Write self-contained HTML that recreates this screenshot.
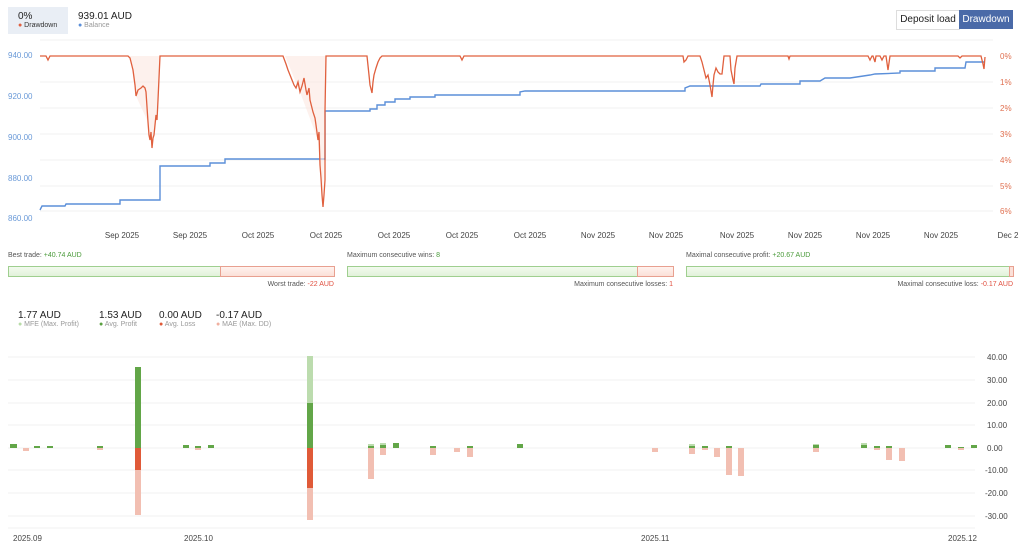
<!DOCTYPE html>
<html><head><meta charset="utf-8"><style>
body{margin:0;background:#fff;width:1024px;height:549px;overflow:hidden;font-family:"Liberation Sans",sans-serif;position:relative}
.a{position:absolute;white-space:nowrap}
.m{font-family:"Liberation Sans",sans-serif;font-size:7px;color:#555}
</style></head><body>
<div class="a" style="left:8px;top:7px;width:60px;height:27px;background:#e9eef5"></div>
<div class="a" style="left:18px;top:11px;font-size:10px;color:#222">0%</div>
<div class="a" style="left:18px;top:22px;font-size:7px;color:#333"><span style="color:#e06040">●</span> Drawdown</div>
<div class="a" style="left:78px;top:11px;font-size:10px;color:#222">939.01 AUD</div>
<div class="a" style="left:78px;top:22px;font-size:7px;color:#999"><span style="color:#5b8fd9">●</span> Balance</div>
<div class="a" style="left:896px;top:10px;width:62px;height:18px;border:1px solid #ddd;font-size:10px;line-height:18px;text-align:center;color:#222">Deposit load</div>
<div class="a" style="left:959px;top:10px;width:54px;height:19px;background:#4a6aa8;font-size:10px;line-height:19px;text-align:center;color:#fff">Drawdown</div>

<svg class="a" style="left:0;top:0" width="1024" height="549">
<g stroke="#f0f0f0" stroke-width="1">
<line x1="40" x2="993" y1="40" y2="40"/><line x1="40" x2="993" y1="82" y2="82"/><line x1="40" x2="993" y1="108" y2="108"/><line x1="40" x2="993" y1="134" y2="134"/><line x1="40" x2="993" y1="160" y2="160"/><line x1="40" x2="993" y1="186" y2="186"/><line x1="40" x2="993" y1="211" y2="211"/>
</g>
<g font-size="8" fill="#6a9ad8"><text x="8" y="58">940.00</text><text x="8" y="99">920.00</text><text x="8" y="140">900.00</text><text x="8" y="181">880.00</text><text x="8" y="221">860.00</text></g>
<g font-size="8" fill="#e07050"><text x="1000" y="59">0%</text><text x="1000" y="85">1%</text><text x="1000" y="111">2%</text><text x="1000" y="137">3%</text><text x="1000" y="163">4%</text><text x="1000" y="189">5%</text><text x="1000" y="214">6%</text></g>
<g font-size="8" fill="#444" text-anchor="middle"><text x="122" y="238">Sep 2025</text><text x="190" y="238">Sep 2025</text><text x="258" y="238">Oct 2025</text><text x="326" y="238">Oct 2025</text><text x="394" y="238">Oct 2025</text><text x="462" y="238">Oct 2025</text><text x="530" y="238">Oct 2025</text><text x="598" y="238">Nov 2025</text><text x="666" y="238">Nov 2025</text><text x="737" y="238">Nov 2025</text><text x="805" y="238">Nov 2025</text><text x="873" y="238">Nov 2025</text><text x="941" y="238">Nov 2025</text><text x="1008" y="238">Dec 2</text></g>
<polyline fill="none" stroke="#5b8fd9" stroke-width="1.4" points="40,210 42,206 65,206 66,204 120,204 120,200 160,200 160,166 210,166 210,163 225,163 225,159 325,159 325,111 370,111 370,109 377,109 377,105 385,105 385,102 395,102 395,99 410,99 410,97 435,97 435,95 520,95 520,92 525,91 685,91 685,88 690,86 760,86 761,84 800,84 800,81 820,81 825,78 850,78 870,75 875,74 900,73 900,71 935,71 935,68 965,68 966,62 980,62 985,62"/>
<polygon fill="#fbe7e1" opacity="0.6" points="130,56 136,96 148,122 152,147 158,100 160,56"/>
<polygon fill="#fbe7e1" opacity="0.6" points="285,56 300,92 318,140 323,207 326,56"/>
<polyline fill="none" stroke="#e0603e" stroke-width="1.3" points="40,56 46,56 48,60 50,56 128,56 130,58 133,70 135,85 136,96 138,90 141,88 143,86 145,88 146,92 148,122 149,135 150,140 151,132 152,148 153,138 154,135 155,125 156,115 157,120 158,100 160,56 283,56 286,64 288,70 290,75 292,80 294,85 296,88 298,82 300,92 302,86 304,78 306,90 307,95 309,88 310,100 312,108 313,112 315,118 316,125 318,140 319,132 320,165 321,178 322,195 323,207 324,195 325,180 325,111 326,56 367,56 369,75 370,85 372,93 373,82 374,75 376,68 378,62 380,58 382,56 460,56 462,60 464,56 683,56 684,62 686,60 688,56 700,56 702,62 704,70 706,78 708,75 710,85 712,97 713,85 714,75 716,68 718,72 720,74 722,74 724,56 730,56 731,70 733,80 734,84 735,68 737,56 788,56 789,59 790,56 868,56 870,60 872,56 873,56 875,62 876,56 880,56 882,60 884,56 886,56 888,70 890,56 958,56 960,58 962,56 975,56 981,56 983,64 984,69 985,57"/>
</svg>

<div class="a m" style="left:8px;top:252px">Best trade: <span style="color:#4a9a3a">+40.74 AUD</span></div>
<div class="a" style="left:8px;top:266px;width:211px;height:9px;border:1px solid #9fcf8f;background:linear-gradient(#f2faee,#e2f2da)"></div>
<div class="a" style="left:220px;top:266px;width:113px;height:9px;border:1px solid #e8a090;background:linear-gradient(#fff2ee,#fbe0d8)"></div>
<div class="a m" style="right:690px;top:281px">Worst trade: <span style="color:#e05040">-22 AUD</span></div>
<div class="a m" style="left:347px;top:252px">Maximum consecutive wins: <span style="color:#4a9a3a">8</span></div>
<div class="a" style="left:347px;top:266px;width:289px;height:9px;border:1px solid #9fcf8f;background:linear-gradient(#f2faee,#e2f2da)"></div>
<div class="a" style="left:637px;top:266px;width:35px;height:9px;border:1px solid #e8a090;background:linear-gradient(#fff2ee,#fbe0d8)"></div>
<div class="a m" style="right:351px;top:281px">Maximum consecutive losses: <span style="color:#e05040">1</span></div>
<div class="a m" style="left:686px;top:252px">Maximal consecutive profit: <span style="color:#4a9a3a">+20.67 AUD</span></div>
<div class="a" style="left:686px;top:266px;width:322px;height:9px;border:1px solid #9fcf8f;background:linear-gradient(#f2faee,#e2f2da)"></div>
<div class="a" style="left:1009px;top:266px;width:3px;height:9px;border:1px solid #e8a090;background:#fbe0d8"></div>
<div class="a m" style="right:11px;top:281px">Maximal consecutive loss: <span style="color:#e05040">-0.17 AUD</span></div>

<div class="a" style="left:18px;top:310px;font-size:10px;color:#222">1.77 AUD</div>
<div class="a" style="left:18px;top:321px;font-size:7px;color:#999"><span style="color:#b8dca8">●</span> MFE (Max. Profit)</div>
<div class="a" style="left:99px;top:310px;font-size:10px;color:#222">1.53 AUD</div>
<div class="a" style="left:99px;top:321px;font-size:7px;color:#999"><span style="color:#5aa040">●</span> Avg. Profit</div>
<div class="a" style="left:159px;top:310px;font-size:10px;color:#222">0.00 AUD</div>
<div class="a" style="left:159px;top:321px;font-size:7px;color:#999"><span style="color:#e05a38">●</span> Avg. Loss</div>
<div class="a" style="left:216px;top:310px;font-size:10px;color:#222">-0.17 AUD</div>
<div class="a" style="left:216px;top:321px;font-size:7px;color:#999"><span style="color:#f0b0a0">●</span> MAE (Max. DD)</div>

<svg class="a" style="left:0;top:0" width="1024" height="549">
<g stroke="#f0f0f0"><line x1="8" x2="975" y1="357" y2="357"/><line x1="8" x2="975" y1="380" y2="380"/><line x1="8" x2="975" y1="403" y2="403"/><line x1="8" x2="975" y1="425" y2="425"/><line x1="8" x2="975" y1="448" y2="448"/><line x1="8" x2="975" y1="470" y2="470"/><line x1="8" x2="975" y1="493" y2="493"/><line x1="8" x2="975" y1="516" y2="516"/><line x1="8" x2="975" y1="528" y2="528"/></g>
<g font-size="8" fill="#444"><text x="987" y="360">40.00</text><text x="987" y="383">30.00</text><text x="987" y="406">20.00</text><text x="987" y="428">10.00</text><text x="987" y="451">0.00</text><text x="985" y="473">-10.00</text><text x="985" y="496">-20.00</text><text x="985" y="519">-30.00</text></g>
<g font-size="8" fill="#444"><text x="13" y="541">2025.09</text><text x="184" y="541">2025.10</text><text x="641" y="541">2025.11</text><text x="948" y="541">2025.12</text></g>
<rect x="135" y="470" width="6" height="45" fill="#f2bfb2"/><rect x="135" y="448" width="6" height="22" fill="#e05a38"/><rect x="135" y="367" width="6" height="81" fill="#62a648"/>
<rect x="307" y="488" width="6" height="32" fill="#f2bfb2"/><rect x="307" y="448" width="6" height="40" fill="#e05a38"/><rect x="307" y="403" width="6" height="45" fill="#62a648"/><rect x="307" y="356" width="6" height="47" fill="#bcdcae"/>
<g fill="#f2bfb2">
<rect x="23" y="448" width="6" height="3"/><rect x="368" y="448" width="6" height="31"/><rect x="380" y="448" width="6" height="7"/><rect x="430" y="448" width="6" height="7"/><rect x="454" y="448" width="6" height="4"/><rect x="467" y="448" width="6" height="9"/><rect x="652" y="448" width="6" height="4"/><rect x="689" y="448" width="6" height="6"/><rect x="702" y="448" width="6" height="2"/><rect x="714" y="448" width="6" height="9"/><rect x="726" y="448" width="6" height="27"/><rect x="738" y="448" width="6" height="28"/><rect x="813" y="448" width="6" height="4"/><rect x="874" y="448" width="6" height="2"/><rect x="886" y="448" width="6" height="12"/><rect x="899" y="448" width="6" height="13"/><rect x="958" y="448" width="6" height="2"/><rect x="97" y="448" width="6" height="2"/><rect x="195" y="448" width="6" height="2"/>
</g>
<g fill="#bcdcae">
<rect x="368" y="444" width="6" height="4"/><rect x="380" y="443" width="6" height="5"/><rect x="689" y="444" width="6" height="4"/><rect x="861" y="443" width="6" height="5"/><rect x="813" y="444" width="6" height="4"/>
</g>
<g fill="#62a648">
<rect x="10" y="444" width="7" height="4"/><rect x="34" y="446" width="6" height="2"/><rect x="47" y="446" width="6" height="2"/><rect x="97" y="446" width="6" height="2"/><rect x="183" y="445" width="6" height="3"/><rect x="195" y="446" width="6" height="2"/><rect x="208" y="445" width="6" height="3"/><rect x="368" y="446" width="6" height="2"/><rect x="380" y="445" width="6" height="3"/><rect x="393" y="443" width="6" height="5"/><rect x="430" y="446" width="6" height="2"/><rect x="467" y="446" width="6" height="2"/><rect x="517" y="444" width="6" height="4"/><rect x="689" y="446" width="6" height="2"/><rect x="702" y="446" width="6" height="2"/><rect x="726" y="446" width="6" height="2"/><rect x="813" y="445" width="6" height="3"/><rect x="861" y="445" width="6" height="3"/><rect x="874" y="446" width="6" height="2"/><rect x="886" y="446" width="6" height="2"/><rect x="945" y="445" width="6" height="3"/><rect x="958" y="447" width="6" height="1"/><rect x="971" y="445" width="6" height="3"/>
</g>
</svg>
</body></html>
